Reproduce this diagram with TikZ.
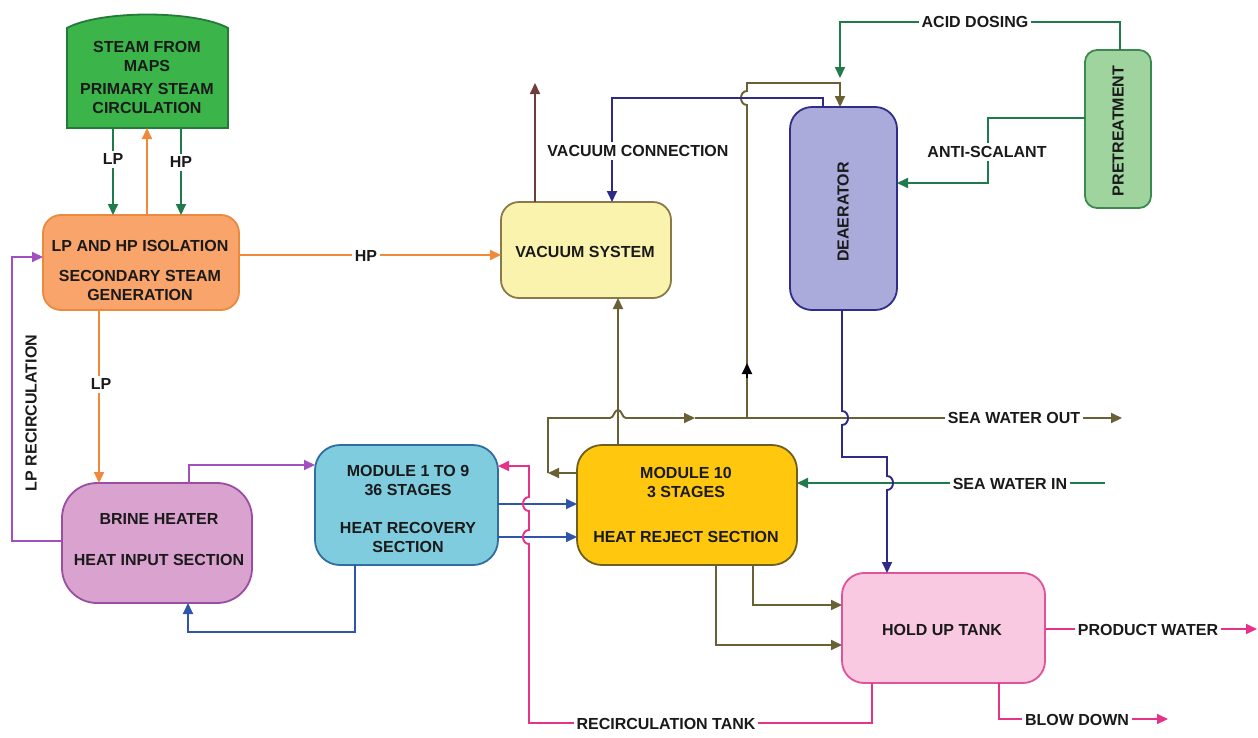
\documentclass[tikz,border=0pt]{standalone}
\usepackage{fontspec}
\setmainfont{Liberation Sans}
\usetikzlibrary{arrows.meta}
\definecolor{txt}{HTML}{1A1A1A}
\definecolor{steamF}{HTML}{3BB54A}\definecolor{steamD}{HTML}{237A3A}
\definecolor{isoF}{HTML}{F9A46A}\definecolor{isoD}{HTML}{E98A3F}
\definecolor{vacF}{HTML}{FAF3AE}\definecolor{vacD}{HTML}{8A7A4A}
\definecolor{deaF}{HTML}{AAAADB}\definecolor{deaD}{HTML}{2E2E8A}
\definecolor{preF}{HTML}{9FD49E}\definecolor{preD}{HTML}{3C8A50}
\definecolor{m19F}{HTML}{7FCCDF}\definecolor{m19D}{HTML}{2F6E9E}
\definecolor{m10F}{HTML}{FFC80F}\definecolor{m10D}{HTML}{6E5E20}
\definecolor{brF}{HTML}{D9A2CF}\definecolor{brD}{HTML}{9A4EA3}
\definecolor{hoF}{HTML}{F8C9E0}\definecolor{hoD}{HTML}{E0529A}
\definecolor{cgr}{HTML}{1F7A4C}
\definecolor{cor}{HTML}{F08A3A}
\definecolor{cpu}{HTML}{A24FC0}
\definecolor{cnv}{HTML}{2E2A86}
\definecolor{cbl}{HTML}{2E55A8}
\definecolor{col}{HTML}{6A6035}
\definecolor{cpk}{HTML}{E6338A}
\definecolor{cmr}{HTML}{6E3E3E}
\begin{document}
\begin{tikzpicture}[x=1pt,y=-1pt,
 every node/.style={font=\fontsize{16}{19}\selectfont\bfseries, text=txt},
 box/.style={draw, line width=1.8pt, inner sep=0pt, outer sep=0pt},
 lbl/.style={fill=white, inner sep=3pt},
 tnode/.style={align=center, inner sep=0pt},
 flow/.style={line width=1.9pt, -{Triangle[length=11pt,width=10pt]}},
]
\useasboundingbox (0,0) rectangle (1258,737);
\fill[white] (0,0) rectangle (1258,737);

% ---------- boxes ----------
\filldraw[fill=steamF, draw=steamD, line width=1.8pt]
  (67,128) -- (67,28) .. controls (100,10) and (195,10) .. (228,28) -- (228,128) -- cycle;
\node[inner sep=0pt, outer sep=0pt, minimum width=161pt, minimum height=100pt] (steam) at (147.5,78) {};
\node[tnode] (steamT) at (147,77) {STEAM FROM\\MAPS\\[4pt]PRIMARY STEAM\\CIRCULATION};

\node[box, fill=isoF, draw=isoD, rounded corners=18pt, minimum width=196pt, minimum height=95pt] (iso) at (141,262.5) {};
\node[tnode] (isoT) at (140,270.5) {LP AND HP ISOLATION\\[11pt]SECONDARY STEAM\\GENERATION};

\node[box, fill=vacF, draw=vacD, rounded corners=18pt, minimum width=170pt, minimum height=96pt] (vac) at (586,250) {};
\node[tnode] (vacT) at (585,252) {VACUUM SYSTEM};

\node[box, fill=deaF, draw=deaD, rounded corners=22pt, minimum width=107pt, minimum height=203pt] (dea) at (843.5,208.5) {};
\node[tnode, rotate=90] (deaT) at (843,212) {DEAERATOR};

\node[box, fill=preF, draw=preD, rounded corners=12pt, minimum width=66pt, minimum height=158pt] (pre) at (1118,129) {};
\node[tnode, rotate=90] (preT) at (1118,131) {PRETREATMENT};

\node[box, fill=m19F, draw=m19D, rounded corners=25pt, minimum width=183pt, minimum height=120pt] (m19) at (406.5,505) {};
\node[tnode] (m19T) at (408,509) {MODULE 1 TO 9\\36 STAGES\\[19pt]HEAT RECOVERY\\SECTION};

\node[box, fill=m10F, draw=m10D, rounded corners=25pt, minimum width=220pt, minimum height=120pt] (m10) at (687,505) {};
\node[tnode] (m10T) at (686,504.5) {MODULE 10\\3 STAGES\\[26pt]HEAT REJECT SECTION};

\node[box, fill=brF, draw=brD, rounded corners=35pt, minimum width=190pt, minimum height=120pt] (brine) at (157,543) {};
\node[tnode] (brineT) at (159,540) {BRINE HEATER\\[22pt]HEAT INPUT SECTION};

\node[box, fill=hoF, draw=hoD, rounded corners=22pt, minimum width=203pt, minimum height=110pt] (hold) at (943.5,628) {};
\node[tnode] (holdT) at (942,630) {HOLD UP TANK};

% ---------- connectors ----------
% steam <-> isolation
\draw[flow, cgr] (steam.south -| 113,0) -- (iso.north -| 113,0);
\draw[flow, cor] (iso.north -| 147,0) -- (steam.south -| 147,0);
\draw[flow, cgr] (steam.south -| 181,0) -- (iso.north -| 181,0);
% HP to vacuum
\draw[flow, cor] (iso.east |- 0,255) -- (vac.west |- 0,255);
% LP to brine heater
\draw[flow, cor] (iso.south -| 99,0) -- (brine.north -| 99,0);
% LP recirculation
\draw[flow, cpu] (brine.west |- 0,541) -- (12,541) -- (12,257) -- (iso.west |- 0,257);
% brine -> module 1-9
\draw[flow, cpu] (brine.north -| 189,0) -- (189,465) -- (m19.west |- 0,465);
% module 1-9 -> brine
\draw[flow, cbl] (m19.south -| 355,0) -- (355,632) -- (188,632) -- (brine.south -| 188,0);
% module 1-9 -> module 10
\draw[flow, cbl] (m19.east |- 0,504) -- (m10.west |- 0,504);
\draw[flow, cbl] (m19.east |- 0,537) -- (m10.west |- 0,537);
% recirculation tank (pink)
\draw[flow, cpk] (hold.south -| 872,0) -- (872,723) -- (529,723) -- (529,544)
  .. controls (521,544) and (521,530) .. (529,530) -- (529,511)
  .. controls (521,511) and (521,497) .. (529,497) -- (529,466) -- (m19.east |- 0,466);
% module 10 -> vacuum
\draw[flow, col] (m10.north -| 618,0) -- (vac.south -| 618,0);
% sea water out
\draw[flow, col] (m10.west |- 0,473) -- (548,473);
\draw[flow, col] (548,473) -- (548,418) -- (610,418)
  .. controls (614,418) and (614,410) .. (618,410) .. controls (622,410) and (622,418) .. (626,418) -- (695,418);
\draw[flow, col] (695,418) -- (1122,418);
% olive up to deaerator
\draw[flow, col] (747,418) -- (747,105) .. controls (739,105) and (739,91) .. (747,91) -- (747,83) -- (840,83) -- (dea.north -| 840,0);
\draw[line width=1.9pt, black, -{Triangle[length=11pt,width=10pt]}] (747,378) -- (747,363);
% vacuum connection
\draw[flow, cnv] (dea.north -| 823,0) -- (823,98) -- (612,98) -- (vac.north -| 612,0);
% vacuum vent
\draw[flow, cmr] (vac.north -| 535,0) -- (535,83);
% acid dosing
\draw[flow, cgr] (pre.north -| 1120,0) -- (1120,22) -- (840,22) -- (840,78);
% anti-scalant
\draw[flow, cgr] (pre.west |- 0,118) -- (988,118) -- (988,183) -- (dea.east |- 0,183);
% sea water in
\draw[flow, cgr] (1105,483) -- (m10.east |- 0,483);
% deaerator -> hold up tank
\draw[flow, cnv] (dea.south -| 842,0) -- (842,411) .. controls (850,411) and (850,425) .. (842,425)
  -- (842,457) -- (887,457) -- (887,476) .. controls (895,476) and (895,490) .. (887,490) -- (hold.north -| 887,0);
% module 10 -> hold up tank
\draw[flow, col] (m10.south -| 753,0) -- (753,605) -- (hold.west |- 0,605);
\draw[flow, col] (m10.south -| 716,0) -- (716,645) -- (hold.west |- 0,645);
% product water
\draw[flow, cpk] (hold.east |- 0,629) -- (1257,629);
% blow down
\draw[flow, cpk] (hold.south -| 999,0) -- (999,719) -- (1168,719);

% ---------- labels ----------
\node[lbl] (lLP1) at (113,159) {LP};
\node[lbl] (lHP1) at (181,162) {HP};
\node[lbl] (lHP2) at (366,256) {HP};
\node[lbl] (lLP2) at (101,384) {LP};
\node[lbl, rotate=90] (lRec) at (31,413) {LP RECIRCULATION};
\node[lbl] (lVac) at (638,151) {VACUUM CONNECTION};
\node[lbl] (lAcid) at (975,22) {ACID DOSING};
\node[lbl] (lAnti) at (987,152) {ANTI-SCALANT};
\node[lbl] (lSWO) at (1014,418) {SEA WATER OUT};
\node[lbl] (lSWI) at (1010,484) {SEA WATER IN};
\node[lbl] (lPW) at (1148,630) {PRODUCT WATER};
\node[lbl] (lBD) at (1077,720) {BLOW DOWN};
\node[lbl] (lRT) at (666,724) {RECIRCULATION TANK};
\end{tikzpicture}
\end{document}
